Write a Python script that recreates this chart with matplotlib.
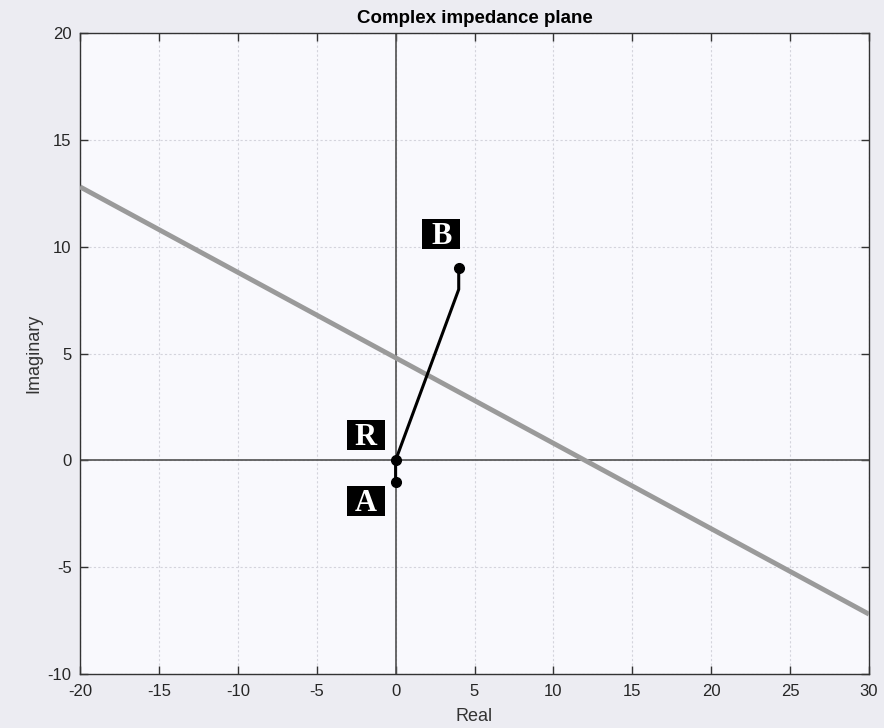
import matplotlib
matplotlib.use("Agg")
import matplotlib.pyplot as plt
from matplotlib.patches import Rectangle
from matplotlib.transforms import ScaledTranslation

plt.rcParams["axes.unicode_minus"] = False

# Data
line_x = [-20, 30]
line_y = [12.8, -7.2]
path_x = [0, 0, 4, 4]
path_y = [-1, 0, 8, 9]
point_x = [0, 0, 4]
point_y = [-1, 0, 9]
label_text = ["A", "R", "B"]
label_x = [-1.9, -1.9, 2.9]
label_y = [-1.9, 1.2, 10.6]
xticks = [-20, -15, -10, -5, 0, 5, 10, 15, 20, 25, 30]
yticks = [-10, -5, 0, 5, 10, 15, 20]

fig = plt.figure(figsize=(8.84, 7.28), dpi=100)
fig.patch.set_facecolor("#ececf2")
ax = fig.add_axes([80/884, 1-674/728, 789/884, 641/728])
ax.set_facecolor("#f9f9fd")

ax.set_xlim(-20, 30)
ax.set_ylim(-10, 20)
ax.set_xticks(xticks)
ax.set_yticks(yticks)
ax.grid(True, color="#d4d4dc", linestyle=(0, (2, 2)), linewidth=0.8)
ax.set_axisbelow(True)

ax.axhline(0, color="#505050", linewidth=1.2, zorder=2)
ax.axvline(0, color="#505050", linewidth=1.2, zorder=2)

ax.plot(line_x, line_y, color="#9a9a9a", linewidth=3.5, zorder=3, solid_capstyle="butt")
ax.plot(path_x, path_y, color="black", linewidth=2.2, zorder=4)
ax.plot(point_x, point_y, "o", color="black", markersize=7, zorder=5)

for t, x, y in zip(label_text, label_x, label_y):
    tr = fig.dpi_scale_trans + ScaledTranslation(x, y, ax.transData)
    ax.add_patch(Rectangle((-0.19, -0.15), 0.38, 0.30, transform=tr,
                           facecolor="black", edgecolor="none", zorder=6, clip_on=False))
    ax.annotate(t, (x, y), xytext=(0, -7.6), textcoords="offset points",
                color="white", fontsize=22, fontweight="bold", family="Liberation Serif",
                ha="center", va="baseline", zorder=7)

for s in ax.spines.values():
    s.set_color("#333333")
    s.set_linewidth(1.0)
ax.tick_params(direction="in", top=True, right=True, length=6, width=1.0,
               colors="#333333", labelsize=12, labelcolor="#262626")
ax.tick_params(axis="x", pad=7)
ax.tick_params(axis="y", pad=6)
for lab in ax.get_xticklabels() + ax.get_yticklabels():
    lab.set_family("Liberation Sans")

ax.set_xlabel("Real", fontsize=13, color="#333333", family="Liberation Sans", labelpad=7)
ax.set_ylabel("Imaginary", fontsize=13, color="#333333", family="Liberation Sans", labelpad=4)
ax.set_title("Complex impedance plane", fontsize=13.5, fontweight="bold", family="Liberation Sans", pad=7)

fig.savefig("out.png", dpi=100, facecolor=fig.get_facecolor())
